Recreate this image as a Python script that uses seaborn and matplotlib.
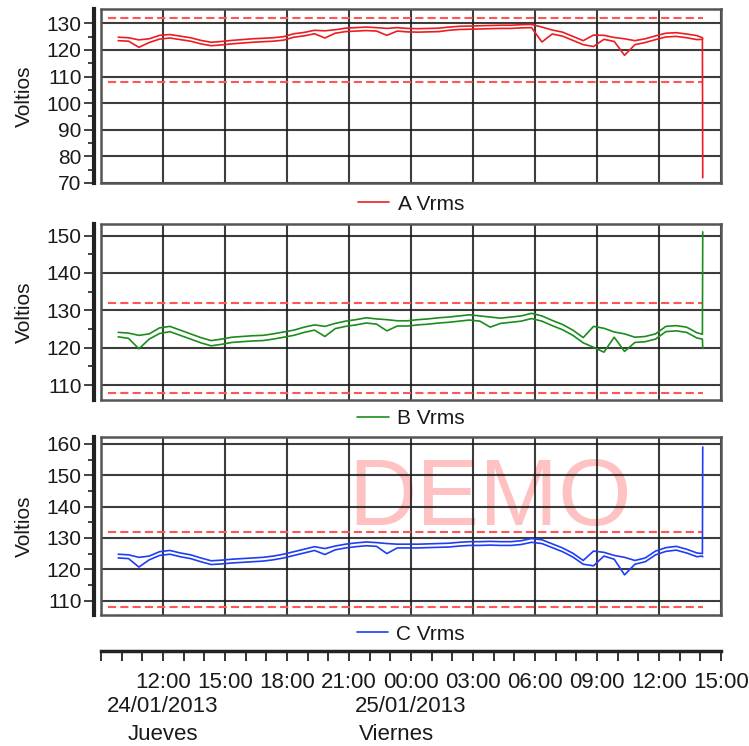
import numpy as np
import pandas as pd
import matplotlib
matplotlib.use("Agg")
import matplotlib.pyplot as plt
import matplotlib.dates as mdates
from matplotlib.ticker import FixedLocator
import seaborn as sns

# ---------------- data ----------------
start = "2013-01-24 09:50"
tail_times = ["2013-01-25 14:06", "2013-01-25 14:07"]
times = pd.date_range(start, periods=57, freq="30min").append(pd.DatetimeIndex(tail_times))

A_max = [124.8, 124.6, 123.8, 124.2, 125.5, 125.8, 125.2, 124.6, 123.6, 122.9,
         123.2, 123.6, 123.9, 124.2, 124.4, 124.6, 125.0, 126.1, 126.6, 127.4,
         127.2, 127.6, 128.2, 128.4, 128.6, 128.4, 128.1, 128.4, 128.1, 128.0,
         128.1, 128.2, 128.6, 128.9, 129.0, 129.1, 129.2, 129.3, 129.3, 129.5,
         129.6, 128.6, 127.5, 126.7, 125.1, 123.5, 125.6, 125.5, 124.7, 124.2,
         123.5, 124.2, 125.3, 126.3, 126.5, 126.0, 125.4, 124.6, 124.2]
A_min = [123.5, 123.3, 121.0, 122.8, 124.1, 124.5, 123.9, 123.3, 122.3, 121.6,
         121.9, 122.3, 122.6, 122.9, 123.1, 123.3, 123.7, 124.8, 125.3, 126.1,
         124.5, 126.3, 126.9, 127.1, 127.3, 127.1, 125.5, 127.1, 126.8, 126.7,
         126.8, 126.9, 127.4, 127.7, 127.8, 127.9, 128.0, 128.1, 128.1, 128.3,
         128.4, 123.0, 126.0, 125.2, 123.6, 122.0, 121.3, 124.0, 123.2, 118.0,
         122.0, 122.8, 123.9, 124.9, 125.1, 124.6, 123.9, 124.0, 72.0]

B_max = [124.1, 123.9, 123.3, 123.7, 125.3, 125.7, 124.7, 123.7, 122.7, 121.9,
         122.3, 122.8, 123.0, 123.2, 123.3, 123.7, 124.2, 124.7, 125.5, 126.1,
         125.7, 126.5, 127.1, 127.5, 128.0, 127.7, 127.5, 127.2, 127.2, 127.5,
         127.7, 128.0, 128.2, 128.5, 128.8, 128.5, 128.2, 127.9, 128.2, 128.5,
         129.2, 128.5, 127.3, 126.2, 124.7, 122.7, 125.7, 125.2, 124.2, 123.7,
         122.8, 123.0, 123.7, 125.7, 125.9, 125.5, 124.0, 123.6, 151.0]
B_min = [122.9, 122.5, 119.7, 122.3, 123.8, 124.3, 123.3, 122.3, 121.3, 120.5,
         120.9, 121.4, 121.6, 121.8, 121.9, 122.3, 122.8, 123.3, 124.1, 124.7,
         123.0, 125.1, 125.7, 126.1, 126.6, 126.3, 124.5, 125.8, 125.8, 126.1,
         126.3, 126.6, 126.8, 127.1, 127.4, 127.1, 125.5, 126.5, 126.8, 127.1,
         127.8, 127.1, 125.9, 124.8, 123.3, 121.3, 120.1, 118.8, 122.8, 119.0,
         121.4, 121.6, 122.3, 124.3, 124.5, 124.1, 122.6, 122.3, 119.8]

C_max = [124.8, 124.6, 123.8, 124.2, 125.6, 126.0, 125.2, 124.6, 123.6, 122.7,
         122.9, 123.2, 123.4, 123.6, 123.8, 124.2, 124.8, 125.6, 126.4, 127.2,
         126.6, 127.4, 128.0, 128.4, 128.7, 128.5, 128.2, 128.0, 128.0, 128.0,
         128.1, 128.2, 128.3, 128.6, 128.8, 128.8, 128.9, 128.8, 128.8, 129.1,
         129.8, 129.4, 128.1, 126.8, 125.1, 122.8, 125.8, 125.4, 124.4, 123.8,
         122.8, 123.6, 125.8, 126.9, 127.3, 126.4, 125.2, 125.0, 159.0]
C_min = [123.6, 123.4, 120.7, 123.0, 124.4, 124.8, 124.0, 123.4, 122.4, 121.5,
         121.7, 122.0, 122.2, 122.4, 122.6, 123.0, 123.6, 124.4, 125.2, 126.0,
         124.7, 126.2, 126.8, 127.2, 127.5, 127.3, 125.0, 126.8, 126.8, 126.8,
         126.9, 127.0, 127.1, 127.4, 127.6, 127.6, 127.7, 127.6, 127.6, 127.9,
         128.6, 128.2, 126.9, 125.6, 123.9, 121.6, 121.1, 124.2, 123.2, 118.2,
         121.6, 122.4, 124.6, 125.7, 126.1, 125.2, 124.0, 124.2, 124.0]

limits = [108, 132]
series_names = ["A Vrms", "B Vrms", "C Vrms"]
series_colors = ["#ec1c22", "#1c8c1c", "#1f3df5"]
ylims = [(70.0, 135.4), (106.0, 153.1), (105.4, 162.2)]
ytick_ranges = [(70, 130), (110, 150), (110, 160)]

time_labels = ["12:00", "15:00", "18:00", "21:00", "00:00", "03:00", "06:00",
               "09:00", "12:00", "15:00"]
date_labels = [("2013-01-24 12:00", "24/01/2013", "Jueves"),
               ("2013-01-25 00:00", "25/01/2013", "Viernes")]

# ---------------- style ----------------
sns.set_style("white")
plt.rcParams["font.family"] = ["Liberation Sans", "DejaVu Sans"]
FS = 15
FSB = 16
TXT = "#1a1a1a"

fig = plt.figure(figsize=(7.49, 7.46), dpi=100)
W, H = 749, 746
left_px, right_px = 101, 721

def frac_rect(top, bottom):
    return [left_px / W, 1 - bottom / H, (right_px - left_px) / W, (bottom - top) / H]

panel_px = [(9, 183), (224, 400), (437, 615)]
legend_y_px = [204, 419, 634]
xmin = mdates.date2num(pd.Timestamp("2013-01-24 09:00"))
xmax = mdates.date2num(pd.Timestamp("2013-01-25 15:00"))
grid_x = mdates.date2num(pd.date_range("2013-01-24 09:00", "2013-01-25 15:00", freq="3h"))

data_sets = [(A_max, A_min), (B_max, B_min), (C_max, C_min)]
xnum = mdates.date2num(times)

axes = []
for i, (top, bot) in enumerate(panel_px):
    ax = fig.add_axes(frac_rect(top, bot))
    axes.append(ax)
    mx, mn = data_sets[i]
    df = pd.DataFrame({"t": xnum, "max": mx, "min": mn})
    sns.lineplot(data=df, x="t", y="max", ax=ax, color=series_colors[i], lw=1.2,
                 estimator=None, label=series_names[i], zorder=3)
    sns.lineplot(data=df, x="t", y="min", ax=ax, color=series_colors[i], lw=1.2,
                 estimator=None, zorder=3)
    for lim in limits:
        ax.plot([xnum[0] - 0.02, xnum[-1]], [lim, lim], color="#ff5555", lw=1.5,
                dashes=(3.9, 2.0), zorder=2.5)
    ax.set_xlim(xmin, xmax)
    ax.set_ylim(*ylims[i])
    lo, hi = ytick_ranges[i]
    ax.yaxis.set_major_locator(FixedLocator(list(range(lo, hi + 1, 10))))
    ax.yaxis.set_minor_locator(FixedLocator([v + 5 for v in range(lo, hi, 10)]))
    ax.xaxis.set_major_locator(FixedLocator(grid_x))
    ax.grid(True, which="major", color="#1a1a1a", lw=1.5, alpha=0.85)
    ax.tick_params(axis="x", length=0, labelbottom=False)
    ax.tick_params(axis="y", which="major", direction="out", length=7, width=1.2,
                   color="#222222", labelsize=FS, labelcolor=TXT, pad=2, left=True)
    ax.tick_params(axis="y", which="minor", direction="out", length=4, width=1.2,
                   color="#222222", left=True)
    for s in ["top", "right", "bottom"]:
        ax.spines[s].set_color("#555555")
        ax.spines[s].set_linewidth(1.8)
    ax.spines["left"].set_position(("outward", 5))
    ax.spines["left"].set_linewidth(3)
    ax.spines["left"].set_color("#222222")
    ax.plot([0, 0], [0, 1], transform=ax.transAxes, color="#555555", lw=1.8, clip_on=False)
    ax.set_xlabel("")
    ax.set_ylabel("Voltios", fontsize=FS, color=TXT)
    ax.yaxis.set_label_coords(-0.108, 0.5)
    ly = -(legend_y_px[i] - bot) / (bot - top)
    ax.legend(loc="center", bbox_to_anchor=(0.5, ly), frameon=False, borderpad=0,
              fontsize=FS, handlelength=1.5, handletextpad=0.4, labelcolor=TXT)

# watermark
axes[2].text(490 / W, 1 - 525 / H, "DEMO", transform=fig.transFigure, fontsize=68,
             color="#ffc2c2", ha="center", va="baseline", zorder=0.5)

# bottom time axis
axb = fig.add_axes([left_px / W, 1 - 651 / H, (right_px - left_px) / W, 0.001])
axb.set_xlim(xmin, xmax)
for s in ["top", "right", "left"]:
    axb.spines[s].set_visible(False)
axb.spines["bottom"].set_linewidth(2.5)
axb.spines["bottom"].set_color("#222222")
axb.set_yticks([])
lab_pos = mdates.date2num(pd.date_range("2013-01-24 12:00", "2013-01-25 15:00", freq="3h"))
axb.xaxis.set_major_locator(FixedLocator(lab_pos))
axb.set_xticklabels(time_labels)
axb.xaxis.set_minor_locator(FixedLocator(mdates.date2num(
    pd.date_range("2013-01-24 09:00", "2013-01-25 15:00", freq="1h"))))
axb.tick_params(axis="x", which="both", direction="out", length=7, width=1.3,
                color="#222222", labelsize=FSB, labelcolor=TXT, pad=8, bottom=True)
for (d, l1, l2), dx in zip(date_labels, [0, -15]):
    xd = mdates.date2num(pd.Timestamp(d))
    axb.annotate(l1, xy=(xd, 0), xycoords=("data", "axes fraction"), xytext=(0, -56),
                 textcoords="offset pixels", ha="center", va="center", fontsize=FSB,
                 color=TXT)
    axb.annotate(l2, xy=(xd, 0), xycoords=("data", "axes fraction"), xytext=(dx, -84),
                 textcoords="offset pixels", ha="center", va="center", fontsize=FSB,
                 color=TXT)

fig.savefig("out.png", dpi=100)
